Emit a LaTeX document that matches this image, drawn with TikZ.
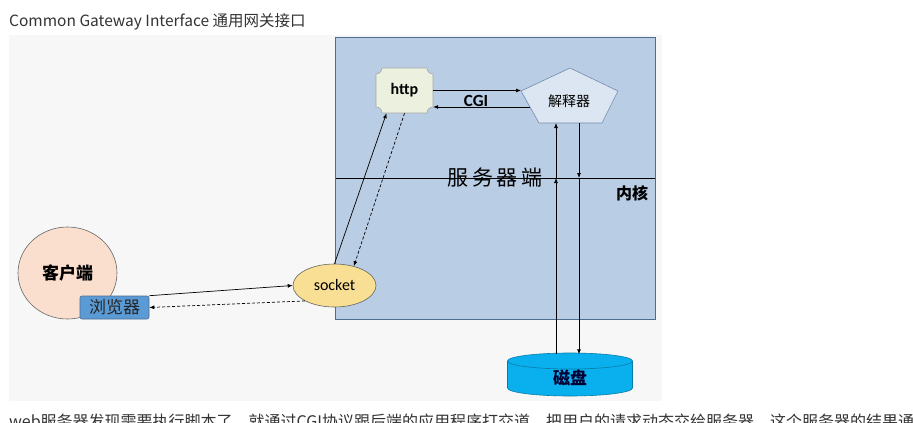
\documentclass[tikz,border=0pt]{standalone}
\usepackage{fontspec}
\setmainfont{Carlito}
\newfontfamily\cjk{Noto Sans CJK SC}
\usetikzlibrary{arrows.meta,shapes.geometric}

\definecolor{panegray}{HTML}{F7F7F7}
\definecolor{serverblue}{HTML}{B9CDE5}
\definecolor{serverline}{HTML}{4F6D93}
\definecolor{httpgreen}{HTML}{EBF1DE}
\definecolor{jsqblue}{HTML}{DCE6F2}
\definecolor{clientpeach}{HTML}{FADFCF}
\definecolor{browserblue}{HTML}{5B9BD5}
\definecolor{socketyellow}{HTML}{F9DF94}
\definecolor{diskblue}{HTML}{0AB0EE}
\definecolor{textgray}{HTML}{333333}

\begin{document}
\begin{tikzpicture}[x=1pt, y=-1pt,
  conn/.style={-{Latex[length=5pt,width=4pt]}, line width=0.7pt},
  back/.style={conn, dash pattern=on 3pt off 2pt},
  lbl/.style={inner sep=0pt, text=black}]
\useasboundingbox (0,0) rectangle (913,423);
\fill[white] (0,0) rectangle (913,423);
\clip (0,0) rectangle (913,423);

% page text and picture pane
\node[anchor=base west, inner sep=0pt, text=textgray, font=\cjk\fontsize{15.5}{18}\selectfont] (title) at (9,27) {Common Gateway Interface 通用网关接口};
\fill[panegray] (9,35) rectangle (662,401);
\node[anchor=base west, inner sep=0pt, text=textgray, font=\cjk\fontsize{16}{19}\selectfont] (para) at (9,427) {web服务器发现需要执行脚本了，就通过CGI协议跟后端的应用程序打交道，把用户的请求动态交给服务器，这个服务器的结果通过};

% server side
\filldraw[fill=serverblue, draw=serverline, line width=0.8pt] (335.5,37.5) rectangle (655,319.5);
\draw[line width=0.8pt] (335.5,178) -- (655,178);
\node[lbl, font=\cjk\fontsize{21}{24}\selectfont] (server) at (495,178) {服\,务\,器\,端};
\node[lbl, font=\cjk\bfseries\fontsize{16}{19}\selectfont] (kernel) at (632,193) {内核};

% http
\filldraw[fill=httpgreen, draw=gray!70, line width=0.6pt] (382,68) -- (427,68) arc[start angle=180, end angle=90, radius=6]
  -- (433,107) arc[start angle=270, end angle=180, radius=6]
  -- (382,113) arc[start angle=0, end angle=-90, radius=6]
  -- (376,74) arc[start angle=90, end angle=0, radius=6] -- cycle;
\node[lbl, font=\bfseries\fontsize{16}{19}\selectfont, minimum width=57pt, minimum height=45pt] (http) at (404.5,90.5) {http};

% interpreter
\filldraw[fill=jsqblue, draw=serverline!80, line width=0.6pt] (570,68) -- (618,91) -- (602,123) -- (539,123) -- (521,91) -- cycle;
\node[lbl, font=\cjk\fontsize{14}{17}\selectfont] (jsq) at (569,101) {解释器};
\coordinate (jL) at (521,90.5);
\coordinate (jLb) at (530,107);
\coordinate (jB1) at (556,123);
\coordinate (jB2) at (579,123);
\coordinate (k1) at (556,178);
\coordinate (k2) at (579,178);

% client
\node[ellipse, fill=clientpeach, draw=gray!80!black, line width=0.6pt, minimum width=99pt, minimum height=92pt, inner sep=0pt, font=\cjk\bfseries\fontsize{17}{20}\selectfont] (client) at (67.5,273) {客户端};
\node[rectangle, rounded corners=2pt, fill=browserblue, draw=serverline, line width=0.6pt, minimum width=69pt, minimum height=23pt, inner sep=0pt, font=\cjk\fontsize{17}{20}\selectfont, text=black!85] (browser) at (114.5,307.5) {浏览器};

% socket
\node[ellipse, fill=socketyellow, draw=gray!80!black, line width=0.6pt, minimum width=83pt, minimum height=43pt, inner sep=0pt, font=\fontsize{16}{19}\selectfont] (socket) at (334.5,285.5) {socket};

% disk
\fill[diskblue] (507.5,361) -- (507.5,388) arc[start angle=180, end angle=0, x radius=62.5, y radius=8] -- (632.5,361) arc[start angle=0, end angle=-180, x radius=62.5, y radius=8] -- cycle;
\draw[diskblue!70!black, line width=0.6pt] (507.5,361) -- (507.5,388) arc[start angle=180, end angle=0, x radius=62.5, y radius=8] -- (632.5,361);
\draw[diskblue!70!black, line width=0.6pt] (570,361) ellipse[x radius=62.5, y radius=8];
\node[lbl, minimum width=125pt, minimum height=47pt, font=\cjk\bfseries\fontsize{17}{20}\selectfont, text=black!80!blue] (disk) at (570,378) {磁盘};

% connectors
\draw[conn] (browser.north east) -- (socket.west);
\draw[back] (socket.south west) -- (browser.east);
\draw[conn] (socket.north) -- ([xshift=-18pt]http.south);
\draw[back] ([xshift=0pt]http.south) -- (socket.45);
\draw[conn] (http.east) -- (jL);
\draw[conn] (jLb) -- (http.east |- jLb);
\node[lbl, anchor=south, font=\bfseries\fontsize{17}{20}\selectfont] (cgi) at (476,107) {CGI};
\draw[conn] (disk.north -| k1) -- (k1);
\draw[conn] (k1) -- (jB1);
\draw[conn] (jB2) -- (k2);
\draw[conn] (k2) -- (disk.north -| k2);
\end{tikzpicture}
\end{document}
